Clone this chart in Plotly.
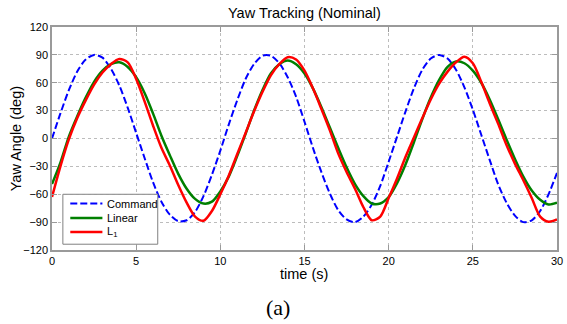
import plotly.graph_objects as go

# Sample times (s)
time_s = [k / 2 for k in range(61)]

# Yaw command (deg)
command = [0, 27, 52, 72, 85, 90, 87, 75, 57, 33, 6,
           -21, -47, -68, -82, -89, -88, -79, -62, -39, -13,
           15, 41, 64, 80, 89, 89, 81, 66, 45, 18,
           -10, -36, -59, -77, -87, -90, -84, -71, -51, -25,
           2, 29, 54, 74, 86, 90, 86, 74, 55, 31,
           4, -23, -49, -69, -83, -90, -88, -78, -60, -37]

# Linear controller response (deg)
linear = [-49, -26, 2, 24, 44, 61, 73, 80, 82, 77, 66,
          49, 27, 3, -18, -38, -54, -65, -70, -68, -57,
          -41, -19, 5, 30, 52, 70, 80, 84, 80, 70,
          54, 34, 12, -10, -31, -49, -62, -70, -70, -63,
          -48, -28, -4, 21, 44, 63, 77, 83, 81, 73,
          60, 42, 21, -1, -22, -41, -56, -66, -71, -69]

# L1 adaptive controller response (deg)
l1 = [-63, -30, -1, 22, 41, 58, 71, 80, 85.5, 82, 64,
      40, 14, -10, -29, -50, -69, -84, -88.5, -78, -60,
      -40, -17, 6, 29, 50, 68, 80, 87.5, 85, 73,
      54, 32, 9, -16, -36, -54, -74, -88, -84, -64,
      -43, -20, 1, 22, 42, 59, 72, 82, 88, 81,
      61, 38, 16, -7, -27, -45, -64, -84, -89.5, -87]

series_names = ["Command", "Linear", "L<sub>1</sub>"]
x_ticks = [0, 5, 10, 15, 20, 25, 30]
y_ticks = [-120, -90, -60, -30, 0, 30, 60, 90, 120]

W, H = 567, 324
PX0, PX1 = 52, 563
PY0, PY1 = 26.5, 249.8

def fx(x):
    return (x - PX0) / (PX1 - PX0)

def fy(y):
    return (PY1 - y) / (PY1 - PY0)

FONT = "Liberation Sans, Arial, sans-serif"
AXIS_GRAY = "#9a9a9a"
BOX_GRAY = "#808080"
GRID_GRAY = "#bcbcbc"

colors = ["#0000ff", "#008000", "#ff0000"]
widths = [2, 2.5, 2.5]
dashes = ["7px,3px", "solid", "solid"]

fig = go.Figure()
for ys, c, w, d, n in zip([command, linear, l1], colors, widths, dashes, series_names):
    fig.add_trace(go.Scatter(
        x=time_s, y=ys, mode="lines", name=n, showlegend=False,
        line=dict(color=c, width=w, dash=d, shape="spline", smoothing=0.8),
    ))

axis_common = dict(
    showline=True, linecolor=AXIS_GRAY, linewidth=1.5, mirror="ticks",
    ticks="inside", ticklen=5, tickcolor=AXIS_GRAY, tickwidth=1,
    showgrid=True, gridcolor=GRID_GRAY, griddash="dot", gridwidth=1,
    zeroline=False, ticklabeloverflow="allow",
    tickfont=dict(family=FONT, size=11, color="black"),
)
fig.update_xaxes(range=[0, 30], tickvals=x_ticks, **axis_common)
fig.update_yaxes(range=[-120, 120], tickvals=y_ticks, **axis_common)

shapes = []
annotations = []

# Legend box
shapes.append(dict(type="rect", xref="paper", yref="paper",
                   x0=fx(63), x1=fx(159), y0=fy(244), y1=fy(194),
                   line=dict(color=BOX_GRAY, width=1), fillcolor="white", layer="above"))
legend_rows = [203.3, 217.7, 231.7]
for row, c, w, d, n in zip(legend_rows, colors, widths, dashes, series_names):
    shapes.append(dict(type="line", xref="paper", yref="paper",
                       x0=fx(70.5), x1=fx(103), y0=fy(row), y1=fy(row),
                       line=dict(color=c, width=w, dash=d if d != "solid" else None),
                       layer="above"))
    annotations.append(dict(text=n, xref="paper", yref="paper", x=fx(105.5), y=fy(row),
                            xanchor="left", yanchor="middle", showarrow=False,
                            font=dict(family=FONT, size=11, color="black")))

# Titles and caption
annotations.append(dict(text="Yaw Tracking (Nominal)", xref="paper", yref="paper",
                        x=fx(307.5), y=fy(12.5), xanchor="center", yanchor="middle",
                        showarrow=False, font=dict(family=FONT, size=14.5, color="black")))
annotations.append(dict(text="time (s)", xref="paper", yref="paper",
                        x=fx(307), y=fy(273.5), xanchor="center", yanchor="middle",
                        showarrow=False, font=dict(family=FONT, size=14.5, color="black")))
annotations.append(dict(text="Yaw Angle (deg)", xref="paper", yref="paper",
                        x=fx(15.5), y=fy(138), xanchor="center", yanchor="middle",
                        textangle=-90, showarrow=False,
                        font=dict(family=FONT, size=14.5, color="black")))
annotations.append(dict(text="(a)", xref="paper", yref="paper",
                        x=fx(281), y=fy(307), xanchor="center", yanchor="middle",
                        showarrow=False,
                        font=dict(family="Liberation Serif, Times New Roman, serif",
                                  size=22, color="black")))

fig.update_layout(
    width=W, height=H,
    margin=dict(l=PX0, r=W - PX1, t=PY0, b=H - PY1, pad=0),
    paper_bgcolor="white", plot_bgcolor="white",
    shapes=shapes, annotations=annotations, showlegend=False,
)

fig.write_html("out.html")
